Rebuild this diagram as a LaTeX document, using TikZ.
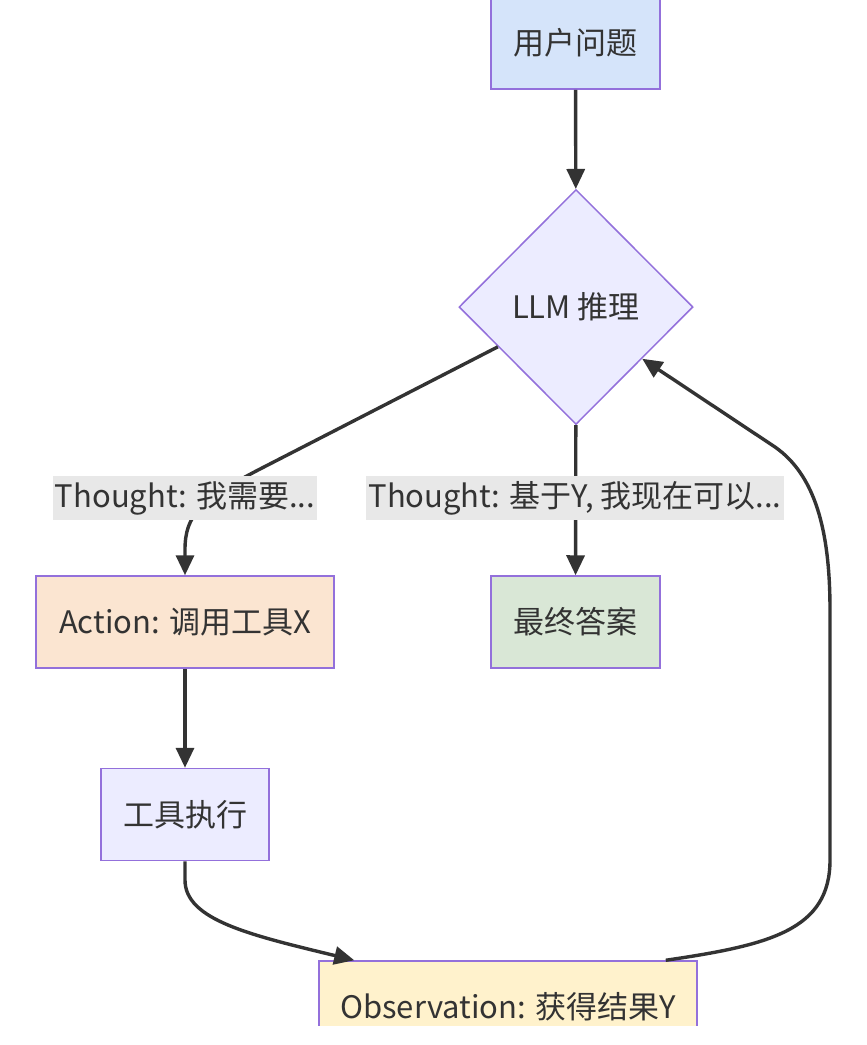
\documentclass[tikz,border=0pt]{standalone}
\usepackage{fontspec}
\setmainfont{Noto Sans CJK SC}
\usepackage{xcolor}
\usetikzlibrary{arrows.meta, positioning, shapes.geometric}
\definecolor{edgegray}{HTML}{333333}
\definecolor{nodeline}{HTML}{9370DB}
\definecolor{lblgray}{HTML}{E8E8E8}
\definecolor{askblue}{HTML}{D5E4FA}
\definecolor{llmfill}{HTML}{ECECFF}
\definecolor{actfill}{HTML}{FBE5D1}
\definecolor{ansfill}{HTML}{D9E7D6}
\definecolor{obsfill}{HTML}{FFF2CC}

\begin{document}
\begin{tikzpicture}[x=1pt, y=-1pt,
    box/.style={draw=nodeline, line width=1.5pt, minimum height=92pt, text=edgegray, font=\fontsize{31}{35}\selectfont},
    edge/.style={draw=edgegray, line width=3.4pt, -{Triangle[length=20pt, width=18pt]}},
    lbl/.style={fill=lblgray, text=edgegray, inner xsep=2pt, inner ysep=5pt, font=\fontsize{31}{35}\selectfont}]
    \useasboundingbox (0,0) rectangle (867,1045);
    \clip (0,0) rectangle (867,1025);
    % nodes
    \node[box, fill=askblue, minimum width=169pt] (ask) at (575.5,43) {用户问题};
    \node[box, diamond, fill=llmfill, aspect=1, inner sep=0pt, minimum width=234pt, minimum height=235pt] (llm) at (576,307) {LLM 推理};
    \node[box, fill=actfill, minimum width=298pt] (act) at (185,622) {Action: 调用工具X};
    \node[box, fill=ansfill, minimum width=169pt] (ans) at (575.5,622) {最终答案};
    \node[box, fill=llmfill, minimum width=168pt] (tool) at (185,814.5) {工具执行};
    \node[box, fill=obsfill, minimum width=378pt] (obs) at (508,1007) {Observation: 获得结果Y};
    % edges
    \draw[edge] (ask) -- (llm);
    \draw[edge] (llm.207) -- (262,468) .. controls (200,500) and (185,515) .. (185,550) -- (act.north);
    \draw[edge] (llm) -- (ans);
    \draw[edge] (act) -- (tool);
    \draw[edge] (tool.south) -- (185,880) .. controls (185,920) and (250,935) .. ([xshift=36pt]obs.north west);
    \draw[edge] ([xshift=-32pt]obs.north east) .. controls (770,945) and (830,930) .. (830,860) -- (830,610) .. controls (830,530) and (815,475) .. (775,447) -- (llm.322);
    % labels
    \node[lbl] (think) at (185,498) {Thought: 我需要...};
    \node[lbl] (done) at (575,498) {Thought: 基于Y, 我现在可以...};
  \end{tikzpicture}
\end{document}
